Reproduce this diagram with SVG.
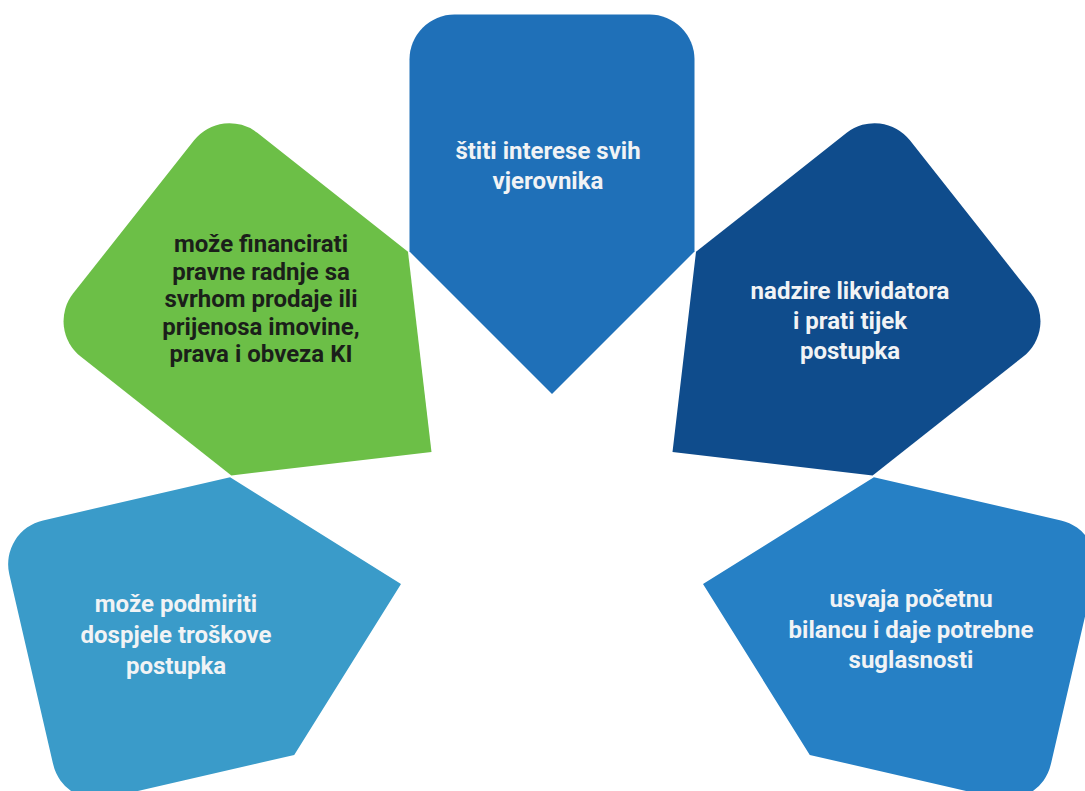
<svg xmlns="http://www.w3.org/2000/svg" xmlns:xlink="http://www.w3.org/1999/xlink" width="1085" height="791" viewBox="0 0 1085 791">
<style>
  .lbl { font-family: Roboto, "Liberation Sans", sans-serif; font-weight: 700; font-size: 24px; text-anchor: middle; }
  .light { fill: #f1f3f5; }
  .darktxt { fill: #1b1f1a; }
  .c-top { fill: #1f70b8; }
  .c-navy { fill: #0f4c8c; }
  .c-green { fill: #6cbf47; }
  .c-lblue { fill: #3a9bc9; }
  .c-mblue { fill: #2680c5; }
</style>
<defs>
  <path id="pent" d="M0,0 L142.5,-142.5 L142.5,-334.5 A45,45 0 0 0 97.5,-379.5 L-97.5,-379.5 A45,45 0 0 0 -142.5,-334.5 L-142.5,-142.5 Z"/>
</defs>
<rect width="1085" height="791" fill="#ffffff"/>
<g id="connectors"/>
<g id="node-top">
  <use xlink:href="#pent" href="#pent" class="c-top" transform="translate(552,394)"/>
  <text class="lbl light" x="548" y="159">štiti interese svih</text>
  <text class="lbl light" x="548" y="189">vjerovnika</text>
</g>
<g id="node-navy">
  <use xlink:href="#pent" href="#pent" class="c-navy" transform="translate(672.5,452) rotate(51.7)"/>
  <text class="lbl light" x="850" y="299">nadzire likvidatora</text>
  <text class="lbl light" x="850" y="329">i prati tijek</text>
  <text class="lbl light" x="850" y="359">postupka</text>
</g>
<g id="node-green">
  <use xlink:href="#pent" href="#pent" class="c-green" transform="translate(431.5,452) rotate(-51.7)"/>
  <text class="lbl darktxt" x="261" y="252">može financirati</text>
  <text class="lbl darktxt" x="261" y="280">pravne radnje sa</text>
  <text class="lbl darktxt" x="261" y="307">svrhom prodaje ili</text>
  <text class="lbl darktxt" x="261" y="335">prijenosa imovine,</text>
  <text class="lbl darktxt" x="261" y="362">prava i obveza KI</text>
</g>
<g id="node-lblue">
  <use xlink:href="#pent" href="#pent" class="c-lblue" transform="translate(401,584) rotate(-103)"/>
  <text class="lbl light" x="176" y="612">može podmiriti</text>
  <text class="lbl light" x="176" y="643">dospjele troškove</text>
  <text class="lbl light" x="176" y="674">postupka</text>
</g>
<g id="node-mblue">
  <use xlink:href="#pent" href="#pent" class="c-mblue" transform="translate(703,584) rotate(103)"/>
  <text class="lbl light" x="911" y="607">usvaja početnu</text>
  <text class="lbl light" x="911" y="638">bilancu i daje potrebne</text>
  <text class="lbl light" x="911" y="668">suglasnosti</text>
</g>
</svg>
